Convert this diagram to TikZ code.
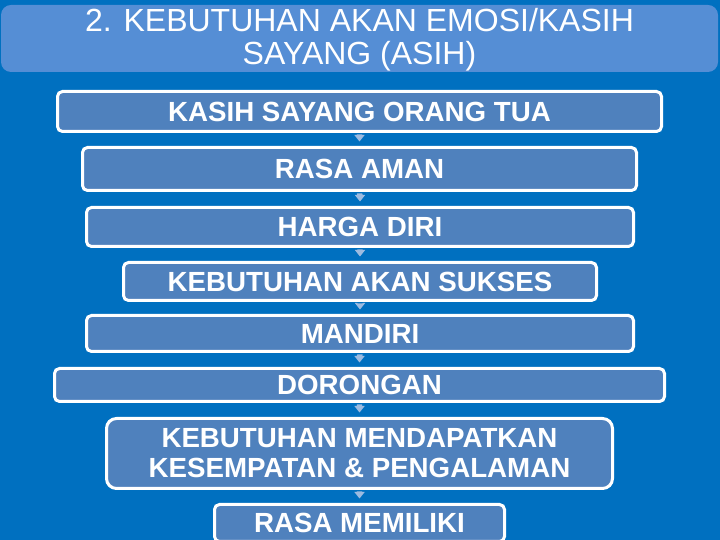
\documentclass[tikz,border=0pt]{standalone}
\usepackage{fontspec}
\setmainfont{Liberation Sans}
\usetikzlibrary{calc}
\definecolor{bgblue}{RGB}{0,112,192}
\definecolor{boxblue}{RGB}{79,129,189}
\definecolor{titleblue}{RGB}{85,142,213}
\definecolor{arrowblue}{RGB}{157,187,224}
\tikzset{
  x=1pt, y=1pt,
  stepbox/.style={draw=white, line width=3pt, fill=boxblue, rounded corners=5pt,
    text=white, inner sep=0pt, align=center,
    font=\fontsize{27.7}{30}\selectfont\bfseries},
  flowarrow/.style={fill=arrowblue},
  titletext/.style={text=white, inner sep=0pt, anchor=base,
    font=\fontsize{32}{33}\selectfont}
}
\begin{document}
\begin{tikzpicture}
\useasboundingbox (0,0) rectangle (720,540);
\clip (0,0) rectangle (720,540);
\fill[bgblue] (0,0) rectangle (720,540);
% title bar
\fill[titleblue, rounded corners=10pt] (1,468) rectangle (718,535);
\node[titletext] (t1) at (359.5,508) {2. KEBUTUHAN AKAN EMOSI/KASIH};
\node[titletext] (t2) at (359.5,475) {SAYANG (ASIH)};
% boxes
\node[stepbox, minimum width=604, minimum height=40] (n1) at (359.5,428.5) {KASIH SAYANG ORANG TUA};
\node[stepbox, minimum width=554, minimum height=43] (n2) at (359.5,371) {RASA AMAN};
\node[stepbox, minimum width=547, minimum height=39] (n3) at (360,313) {HARGA DIRI};
\node[stepbox, minimum width=473, minimum height=38] (n4) at (360,258.5) {KEBUTUHAN AKAN SUKSES};
\node[stepbox, minimum width=547, minimum height=36] (n5) at (360,206.5) {MANDIRI};
\node[stepbox, minimum width=610, minimum height=33] (n6) at (359.5,155) {DORONGAN};
\node[stepbox, rounded corners=10pt, minimum width=506, minimum height=70] (n7) at (359.5,86.5) {KEBUTUHAN MENDAPATKAN\\KESEMPATAN \& PENGALAMAN};
\node[stepbox, minimum width=290, minimum height=37] (n8) at (359.5,17) {RASA MEMILIKI};
% arrows (block arrows from box to box)
\foreach \a/\b in {n1/n2,n2/n3,n3/n4,n4/n5,n5/n6,n6/n7,n7/n8}{
  \fill[flowarrow]
    ($(\a.south)+(-2.7,-1.5)$) -- ($(\a.south)+(2.7,-1.5)$)
    -- ($(\b.north)+(2.7,11)$) -- ($(\b.north)+(5.2,11)$)
    -- ($(\b.north)+(0,4.5)$) -- ($(\b.north)+(-5.2,11)$)
    -- ($(\b.north)+(-2.7,11)$) -- cycle;
}
\end{tikzpicture}
\end{document}
